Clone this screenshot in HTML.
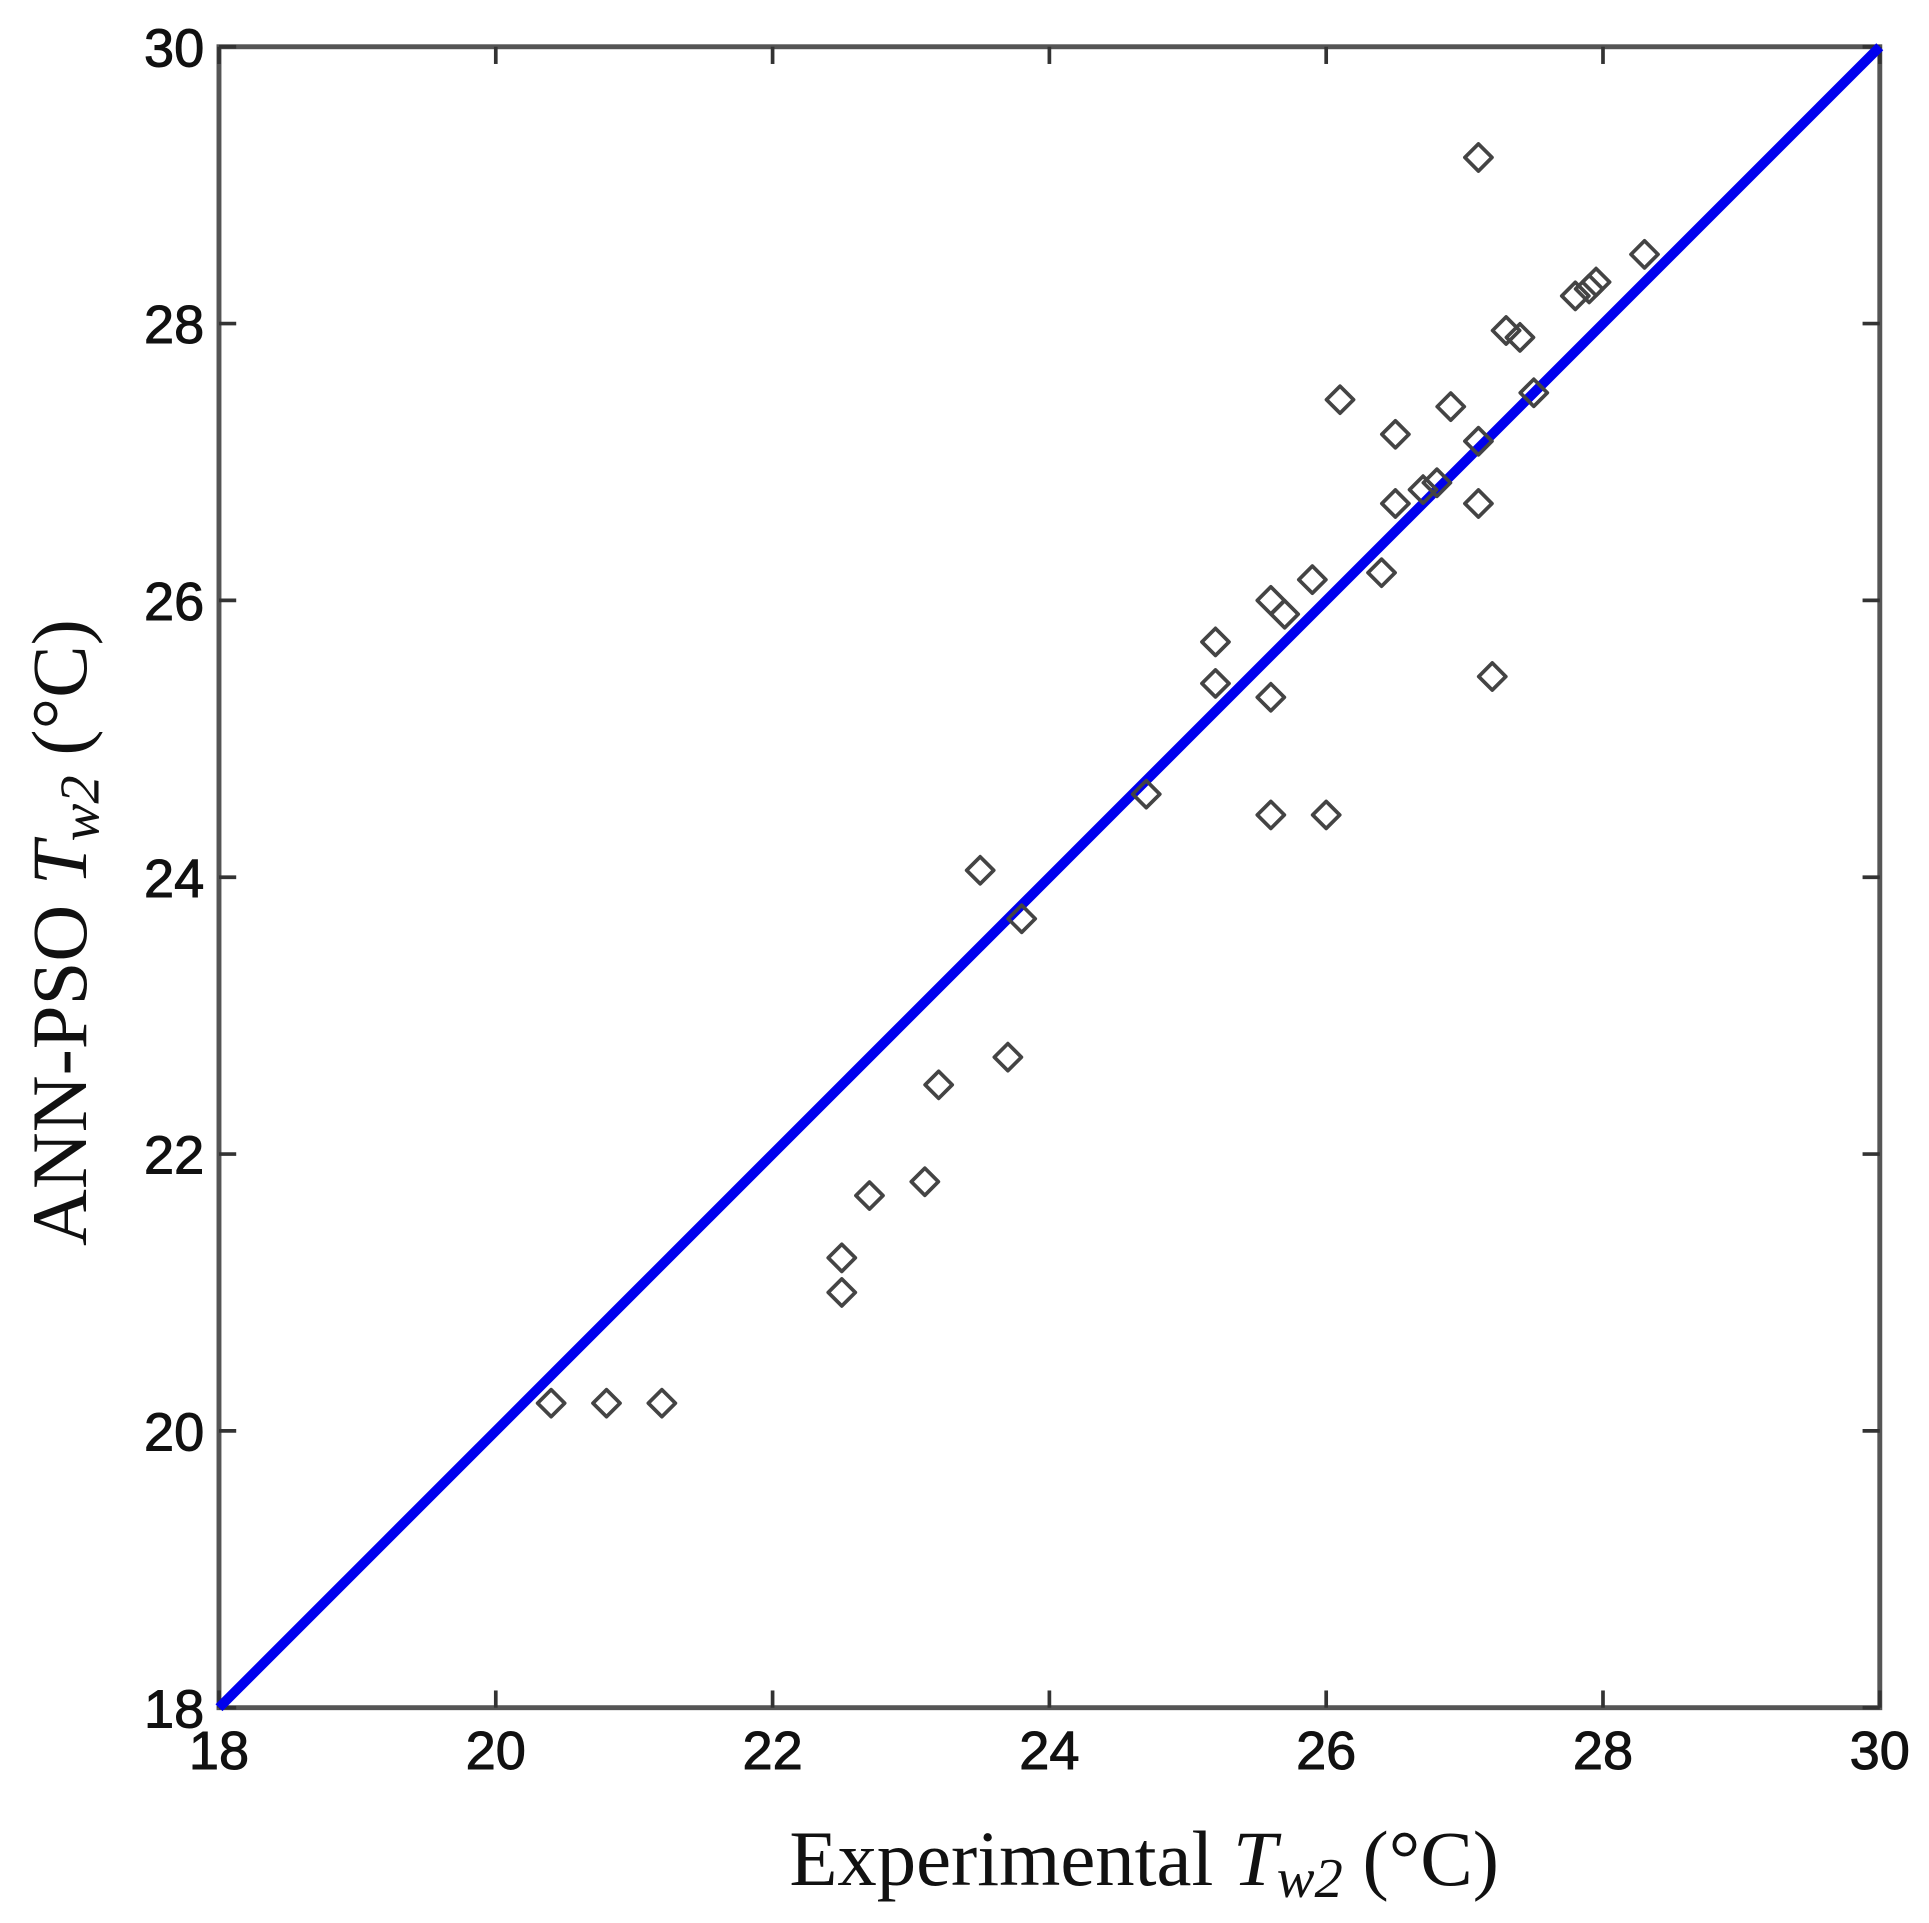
<!DOCTYPE html>
<html><head><meta charset="utf-8"><style>html,body{margin:0;padding:0;background:#fff}svg{display:block}</style></head>
<body>
<svg id="chart" width="1929" height="1923" viewBox="0 0 1568 1563" preserveAspectRatio="none" xmlns="http://www.w3.org/2000/svg">
<rect width="1568" height="1563" fill="#fff"/>
<g id="plot"></g>
</svg>
<script>
const xVals=[20.4,20.8,21.2,22.5,22.5,22.7,23.1,23.2,23.7,23.5,23.8,24.7,25.2,25.2,25.6,25.7,25.6,25.6,26.0,25.9,26.1,26.4,26.5,26.5,26.7,26.8,26.9,27.1,27.1,27.2,27.1,27.3,27.4,27.5,27.8,27.9,27.95,28.3];
const yVals=[20.2,20.2,20.2,21.25,21.0,21.7,21.8,22.5,22.7,24.05,23.7,24.6,25.7,25.4,26.0,25.9,25.3,24.45,24.45,26.15,27.45,26.2,27.2,26.7,26.8,26.85,27.4,27.15,26.7,25.45,29.2,27.95,27.9,27.5,28.2,28.25,28.3,28.5];
const xTicks=[18,20,22,24,26,28,30];
const yTicks=[18,20,22,24,26,28,30];
const lineX=[18,30];
const lineY=[18,30];
const L=178,R=1528,T=38,B=1388,xmin=18,xmax=30,ymin=18,ymax=30;
const sx=v=>L+(v-xmin)/(xmax-xmin)*(R-L);
const sy=v=>B-(v-ymin)/(ymax-ymin)*(B-T);
const NS="http://www.w3.org/2000/svg";
const g=document.getElementById('plot');
function mk(t,a){const e=document.createElementNS(NS,t);for(const k in a)e.setAttribute(k,a[k]);g.appendChild(e);return e;}
const frame=mk('rect',{x:L,y:T,width:R-L,height:B-T,fill:'none',stroke:'#555',"stroke-width":4});


xTicks.forEach(t=>{
 const x=sx(t);
 const a=mk('line',{x1:x,y1:B,x2:x,y2:B-14,stroke:'#333',"stroke-width":3});
 
 
 const b=mk('line',{x1:x,y1:T,x2:x,y2:T+14,stroke:'#333',"stroke-width":3});
 
 
 const tx=mk('text',{x:x,y:B+50,"text-anchor":'middle',"font-family":'Liberation Sans, sans-serif',"font-size":44,fill:'#111',stroke:'#111',"stroke-width":0.8});
 tx.textContent=t;
 
 
});
yTicks.forEach(t=>{
 const y=sy(t);
 const a=mk('line',{x1:L,y1:y,x2:L+14,y2:y,stroke:'#333',"stroke-width":3});
 
 
 const b=mk('line',{x1:R,y1:y,x2:R-14,y2:y,stroke:'#333',"stroke-width":3});
 
 
 const tx=mk('text',{x:L-12,y:y+16,"text-anchor":'end',"font-family":'Liberation Sans, sans-serif',"font-size":44,fill:'#111',stroke:'#111',"stroke-width":0.8});
 tx.textContent=t;
 
 
});
const ln=mk('line',{x1:sx(lineX[0]),y1:sy(lineY[0]),x2:sx(lineX[1]),y2:sy(lineY[1]),stroke:'#0000ee',"stroke-width":8});


xVals.forEach((v,i)=>{
 const x=sx(v),y=sy(yVals[i]),r=11;
 const p=mk('polygon',{points:`${x},${y-r} ${x+r},${y} ${x},${y+r} ${x-r},${y}`,fill:'none',stroke:'#444',"stroke-width":3,"stroke-linejoin":'round'});
 
 
});
const xt=mk('text',{x:930,y:1532,"text-anchor":'middle',"font-family":'Liberation Serif, serif',"font-size":64,fill:'#111'});
xt.innerHTML='Experimental <tspan font-style="italic">T</tspan><tspan font-style="italic" font-size="46" dy="10">w2</tspan><tspan dy="-10"> (°C)</tspan>';


const yt=mk('text',{x:0,y:0,"text-anchor":'middle',"font-family":'Liberation Serif, serif',"font-size":64,fill:'#111',transform:'translate(70,758) rotate(-90)'});
yt.innerHTML='ANN-PSO <tspan font-style="italic">T</tspan><tspan font-style="italic" font-size="46" dy="10">w2</tspan><tspan dy="-10"> (°C)</tspan>';


</script>
</body></html>
